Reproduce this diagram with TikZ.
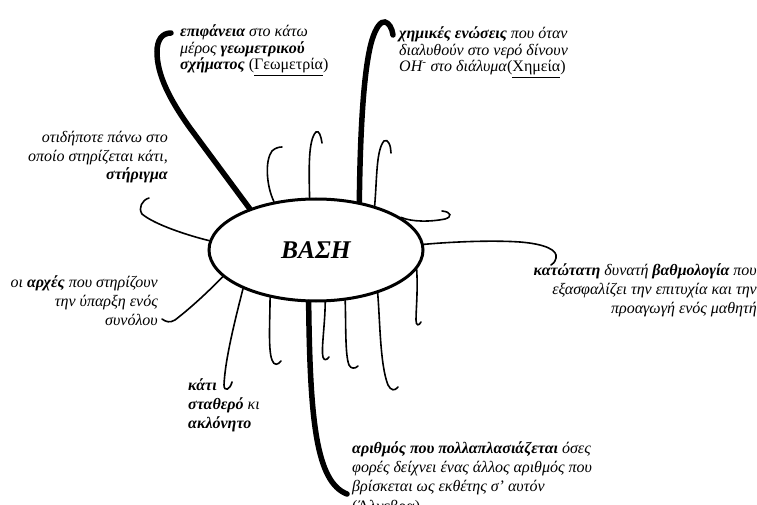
\documentclass[tikz,border=0pt]{standalone}
\usepackage{fontspec}
\setmainfont{Liberation Serif}
\usetikzlibrary{shapes.geometric}

\begin{document}
\begin{tikzpicture}[x=1pt,y=-1pt,
    thickcurve/.style={line width=5.5pt,line cap=round},
    thincurve/.style={line width=1.6pt,line cap=round},
    note/.style={font=\itshape\fontsize{16}{18.6}\selectfont,inner sep=0pt},
    topnote/.style={note,font=\itshape\fontsize{16}{16.8}\selectfont}]
    \useasboundingbox (0,0) rectangle (757,505);

    % central word
    \node[ellipse,draw,line width=3pt,minimum width=214pt,minimum height=102pt,
        font=\bfseries\itshape\fontsize{25.5}{28}\selectfont] (vasi) at (316,250) {ΒΑΣΗ};

    % meanings (base = last line)
    \node[topnote,anchor=base west,align=left] (geom) at (180,70)
        {\textbf{επιφάνεια} στο κάτω\\ μέρος \textbf{γεωμετρικού}\\
         \textbf{σχήματος} \textup{(\underline{Γεωμετρία})}};
    \node[topnote,anchor=base west,align=left] (chem) at (399,72)
        {\textbf{χημικές ενώσεις} που όταν\\ διαλυθούν στο νερό δίνουν\\
         OH\textsuperscript{-} στο διάλυμα\textup{(\underline{Χημεία})}};
    \node[note,anchor=base east,align=right] (stirigma) at (168,180)
        {οτιδήποτε πάνω στο\\ οποίο στηρίζεται κάτι,\\ \textbf{στήριγμα}};
    \node[note,anchor=base east,align=right] (arxes) at (158,325)
        {οι \textbf{αρχές} που στηρίζουν\\ την ύπαρξη ενός\\ συνόλου};
    \node[note,anchor=base west,align=left] (statero) at (188,428)
        {\textbf{κάτι}\\ \textbf{σταθερό} κι\\ \textbf{ακλόνητο}};
    \node[note,anchor=base east,align=right] (vathmos) at (757,313)
        {\textbf{κατώτατη} δυνατή \textbf{βαθμολογία} που\\
         εξασφαλίζει την επιτυχία και την\\ προαγωγή ενός μαθητή};
    \node[note,font=\itshape\fontsize{16}{19.3}\selectfont,anchor=base west,align=left] (algebra) at (352,511)
        {\textbf{αριθμός που πολλαπλασιάζεται} όσες\\
         φορές δείχνει ένας άλλος αριθμός που\\
         βρίσκεται ως εκθέτης σ’ αυτόν\\ \textup{(Άλγεβρα)}};

    % free ends of the curves
    \coordinate (endGeom) at (171,33);
    \coordinate (endChem) at (393,35);
    \coordinate (endAlg) at (347,494);
    \coordinate (endStir) at (149,198);
    \coordinate (endArx) at (162,319);
    \coordinate (endStat) at (232,382);
    \coordinate (endVath) at (551,265);

    % thick branches
    \draw[thickcurve] (vasi.148) -- (190,128) .. controls (170,100) and (157,75) .. (157,52)
        .. controls (157,40) and (162,33) .. (endGeom);
    \draw[thickcurve] (vasi.48) .. controls (360,140) and (363,70) .. (372,40)
        .. controls (376,27) and (381,21) .. (385,22) .. controls (389,23) and (392,28) .. (endChem);
    \draw[thickcurve] (vasi.262) .. controls (310,420) and (316,482) .. (endAlg);

    % thin branches to the meanings
    \draw[thincurve] (vasi.175) .. controls (190,236) and (155,225) .. (142,214)
        .. controls (138,208) and (142,200) .. (endStir);
    \draw[thincurve] (vasi.196) .. controls (205,295) and (188,310) .. (175,320)
        .. controls (170,323) and (166,322) .. (endArx);
    \draw[thincurve] (vasi.208) .. controls (235,320) and (225,360) .. (224,385)
        .. controls (224,392) and (230,390) .. (endStat);
    \draw[thincurve] (vasi.3) .. controls (450,242) and (490,240) .. (520,242)
        .. controls (545,244) and (558,250) .. (556,258) .. controls (555,262) and (553,264) .. (endVath);

    % empty hooks round the ellipse
    \draw[thincurve] (vasi.131) .. controls (266,185) and (265,160) .. (272,151)
        .. controls (275,148) and (279,147) .. (282,147);
    \draw[thincurve] (vasi.97) .. controls (309,170) and (308,140) .. (316,132)
        .. controls (319,130) and (321,136) .. (322,143);
    \draw[thincurve] (vasi.37) .. controls (377,180) and (376,150) .. (384,141)
        .. controls (388,138) and (391,146) .. (391,153);
    \draw[thincurve] (vasi.21) .. controls (412,222) and (430,222) .. (445,219)
        .. controls (452,217) and (452,212) .. (442,211);
    \draw[thincurve] (vasi.-11) .. controls (418,290) and (416,310) .. (416,320)
        .. controls (416,326) and (419,326) .. (421,322);
    \draw[thincurve] (vasi.226) .. controls (270,320) and (268,350) .. (272,360)
        .. controls (274,366) and (278,365) .. (281,361);
    \draw[thincurve] (vasi.280) .. controls (325,325) and (321,350) .. (323,357)
        .. controls (324,361) and (327,360) .. (329,357);
    \draw[thincurve] (vasi.300) .. controls (346,325) and (345,355) .. (349,365)
        .. controls (351,369) and (355,369) .. (358,366);
    \draw[thincurve] (vasi.325) .. controls (380,320) and (380,365) .. (388,385)
        .. controls (391,391) and (395,391) .. (398,387);

\end{tikzpicture}
\end{document}
